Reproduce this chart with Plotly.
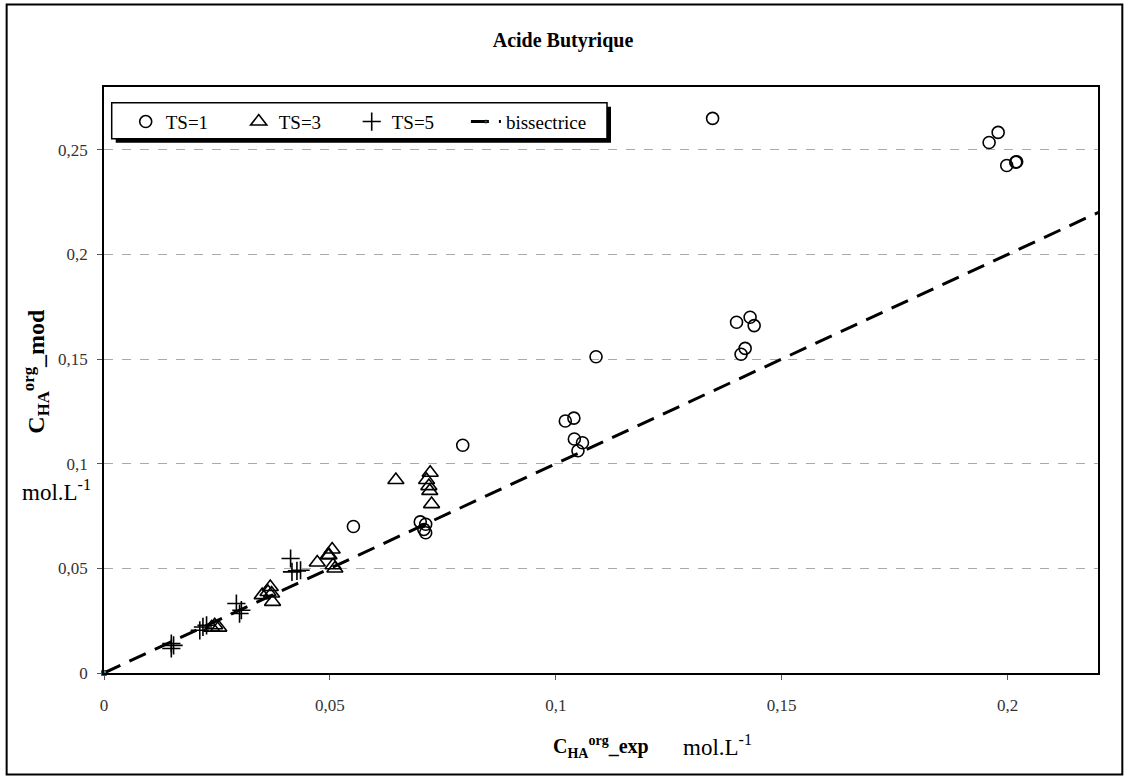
import plotly.graph_objects as go

# ---- data ----
ts1_x = [0.1347, 0.1959, 0.1979, 0.1998, 0.2018, 0.2020, 0.1089, 0.1021, 0.1040, 0.1041,
         0.1059, 0.1049, 0.1400, 0.1430, 0.1439, 0.1419, 0.1410, 0.0794, 0.0552, 0.0700,
         0.0712, 0.0708, 0.0712]
ts1_y = [0.2650, 0.2535, 0.2583, 0.2425, 0.2441, 0.2443, 0.1511, 0.1204, 0.1218, 0.1118,
         0.1100, 0.1062, 0.1676, 0.1700, 0.1660, 0.1551, 0.1523, 0.1088, 0.0700, 0.0722,
         0.0711, 0.0686, 0.0670]

ts3_x = [0.0646, 0.0722, 0.0714, 0.0719, 0.0721, 0.0725, 0.0472, 0.0505, 0.0498, 0.0507,
         0.0496, 0.0511, 0.0368, 0.0363, 0.0350, 0.0373, 0.0371, 0.0245, 0.0254, 0.0238]
ts3_y = [0.0922, 0.0957, 0.0922, 0.0893, 0.0870, 0.0807, 0.0528, 0.0590, 0.0563, 0.0515,
         0.0563, 0.0499, 0.0411, 0.0387, 0.0372, 0.0340, 0.0380, 0.0228, 0.0217, 0.0217]

ts5_x = [0.0413, 0.0416, 0.0427, 0.0435, 0.0293, 0.0304, 0.0300, 0.0219, 0.0212, 0.0227,
         0.0149, 0.0149, 0.0154]
ts5_y = [0.0547, 0.0483, 0.0488, 0.0491, 0.0332, 0.0300, 0.0284, 0.0220, 0.0204, 0.0228,
         0.0141, 0.0117, 0.0132]

biss_x = [0.0, 0.225]
biss_y = [0.0, 0.225]

x_ticks = [0, 0.05, 0.1, 0.15, 0.2]
y_ticks = [0, 0.05, 0.1, 0.15, 0.2, 0.25]

SERIF = "Liberation Serif"

fig = go.Figure()
fig.add_trace(go.Scatter(x=ts1_x, y=ts1_y, mode="markers", name="TS=1", legend="legend",
                         marker=dict(symbol="circle-open", size=12, color="black",
                                     line=dict(width=1.6, color="black"))))
fig.add_trace(go.Scatter(x=ts3_x, y=ts3_y, mode="markers", name="TS=3", legend="legend",
                         marker=dict(symbol="triangle-up-open", size=14, color="black",
                                     line=dict(width=1.6, color="black"))))
fig.add_trace(go.Scatter(x=ts5_x, y=ts5_y, mode="markers", name="TS=5", legend="legend",
                         marker=dict(symbol="cross-thin-open", size=13, color="black",
                                     line=dict(width=1.6, color="black"))))
fig.add_trace(go.Scatter(x=biss_x, y=biss_y, mode="lines+markers", name="bissectrice",
                         legend="legend2", cliponaxis=False,
                         line=dict(color="black", width=3, dash="18px,10px"),
                         marker=dict(symbol="square", size=[5, 0], color="#00e5ff")))

# pixel helpers for paper coords
PL, PR, PT, PB = 104.3, 1097.7, 87.3, 672.7
def px(x):
    return (x - PL) / (PR - PL)
def py(y):
    return (PB - y) / (PB - PT)

shapes = [
    # outer chart frame
    dict(type="rect", xref="paper", yref="paper", x0=px(7), x1=px(1122), y0=py(5), y1=py(774),
         line=dict(color="black", width=2), fillcolor="rgba(0,0,0,0)", layer="below"),
    # legend shadow and box
    dict(type="rect", xref="paper", yref="paper", x0=px(116), x1=px(611), y0=py(107), y1=py(143),
         line=dict(width=0), fillcolor="black", layer="above"),
    dict(type="rect", xref="paper", yref="paper", x0=px(112), x1=px(607), y0=py(103), y1=py(139),
         line=dict(color="black", width=1.5), fillcolor="white", layer="above"),
]

annotations = [
    dict(text="<b>C<sub>HA</sub><sup>org</sup>_exp</b>", xref="paper", yref="paper",
         x=px(601), y=py(747), xanchor="center", yanchor="middle", showarrow=False,
         font=dict(family=SERIF, size=20, color="black")),
    dict(text="mol.L<sup>-1</sup>", xref="paper", yref="paper",
         x=px(717), y=py(745), xanchor="center", yanchor="middle", showarrow=False,
         font=dict(family=SERIF, size=23, color="black")),
    dict(text="<b>C<sub>HA</sub><sup>org</sup>_mod</b>", xref="paper", yref="paper",
         x=px(36), y=py(371), xanchor="center", yanchor="middle", showarrow=False,
         textangle=-90, font=dict(family=SERIF, size=24, color="black")),
    dict(text="mol.L<sup>-1</sup>", xref="paper", yref="paper",
         x=px(57), y=py(490), xanchor="center", yanchor="middle", showarrow=False,
         font=dict(family=SERIF, size=23, color="black")),
]

legend_common = dict(orientation="h", xanchor="left", yanchor="top",
                     bgcolor="rgba(0,0,0,0)", borderwidth=0,
                     font=dict(family=SERIF, size=19, color="black"), itemwidth=30)

fig.update_layout(
    width=1126, height=776,
    margin=dict(l=PL, r=1126 - PR, t=PT, b=776 - PB),
    paper_bgcolor="white", plot_bgcolor="white",
    separators=", ",
    font=dict(family=SERIF),
    title=dict(text="<b>Acide Butyrique</b>", x=0.5, xanchor="center", xref="container",
               y=1 - 40 / 776, yref="container", yanchor="middle",
               font=dict(family=SERIF, size=20, color="black")),
    showlegend=True,
    legend=dict(x=px(126), y=py(103), entrywidth=68, **legend_common),
    legend2=dict(x=px(466), y=py(103), **legend_common),
    shapes=shapes,
    annotations=annotations,
    xaxis=dict(range=[0, 0.22], tickvals=x_ticks, showgrid=False, zeroline=False,
               showline=True, linecolor="black", linewidth=1.5, mirror=True,
               ticks="outside", ticklen=5, tickcolor="#555", ticklabelstandoff=11,
               tickfont=dict(family=SERIF, size=17, color="#333")),
    yaxis=dict(range=[0, 0.28], tickvals=y_ticks, showgrid=True, gridcolor="#aaaaaa",
               griddash="dash", gridwidth=1, zeroline=False,
               showline=True, linecolor="black", linewidth=1.5, mirror=True,
               ticks="outside", ticklen=5, tickcolor="#555", ticklabelstandoff=6,
               tickfont=dict(family=SERIF, size=17, color="#333")),
)

fig.write_html("out.html", config={"displayModeBar": False},
               post_script="document.body.style.margin='0';")
